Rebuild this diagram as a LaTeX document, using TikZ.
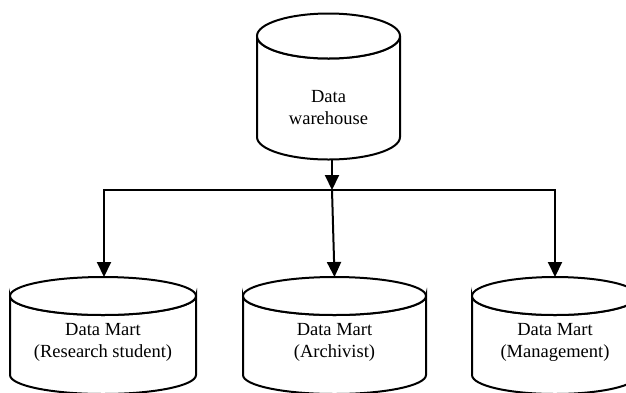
\documentclass[tikz,border=0pt]{standalone}
\usepackage{fontspec}
\setmainfont{Liberation Serif}
\usetikzlibrary{arrows.meta}
\tikzset{
  cyl/.style={line width=2pt, fill=white},
  lbl/.style={align=center, font=\fontsize{18.5}{22}\selectfont, inner sep=0pt},
  conn/.style={line width=2pt, -{Triangle[length=15pt,width=14pt]}},
  plain/.style={line width=2pt}
}
\newcommand{\mycyl}[5]{% cx, rx, topcy, botcy, ry
  \draw[cyl] (#1-#2,#3) -- (#1-#2,#4)
    arc[start angle=180,end angle=360,x radius=#2,y radius=-#5]
    -- (#1+#2,#3)
    arc[start angle=0,end angle=-180,x radius=#2,y radius=-#5] -- cycle;
  \draw[cyl] (#1,#3) ellipse[x radius=#2,y radius=#5];
}
\begin{document}
\begin{tikzpicture}[x=1pt,y=-1pt]
\useasboundingbox (0,0) rectangle (626,392);
\clip (0,0) rectangle (626,392);
% warehouse
\mycyl{328.5}{71.5}{36}{137}{22.5}
\node[lbl] (wh) at (328.5,108) {Data\\warehouse};
\coordinate (whbot) at (332,159);
% marts
\mycyl{103}{93}{296}{375}{19}
\node[lbl] (m1) at (103,342) {Data Mart\\(Research student)};
\coordinate (m1top) at (104,277);
\mycyl{334.5}{91.5}{296}{375}{19}
\node[lbl] (m2) at (334.5,342) {Data Mart\\(Archivist)};
\coordinate (m2top) at (334.5,277);
\mycyl{555}{83}{296}{375}{19}
\node[lbl] (m3) at (555,342) {Data Mart\\(Management)};
\coordinate (m3top) at (555,277);
% connectors
\coordinate (j) at (332,190);
\coordinate (jl) at (104,190);
\coordinate (jr) at (555,190);
\draw[conn] (whbot) -- (j);
\draw[plain, line cap=rect] (jl) -- (jr);
\draw[conn] (jl) -- (m1top);
\draw[conn] (j) -- (m2top);
\draw[conn] (jr) -- (m3top);
\end{tikzpicture}
\end{document}
